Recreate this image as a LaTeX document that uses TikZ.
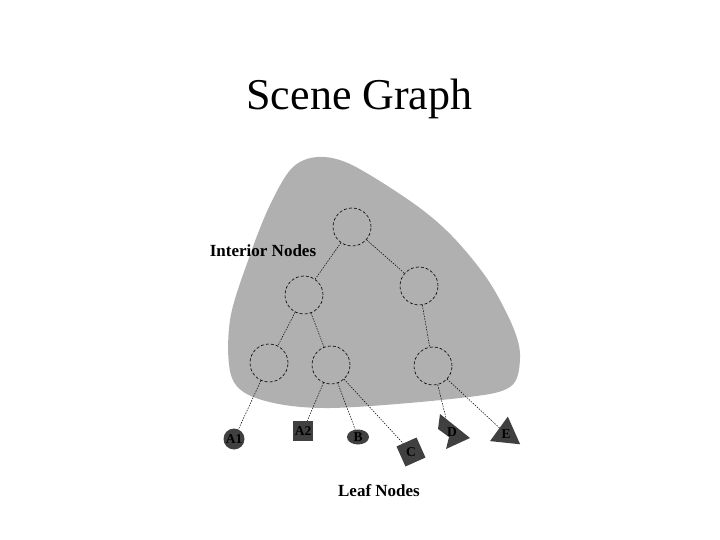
\documentclass[tikz,border=0pt]{standalone}
\usepackage{fontspec}
\setmainfont{Liberation Serif}
\usetikzlibrary{shapes.geometric}
\definecolor{blobgray}{RGB}{176,176,176}
\definecolor{leafgray}{RGB}{64,64,64}
\tikzset{
  inode/.style={draw, circle, dash pattern=on 3pt off 2pt, line width=0.6pt, minimum size=38pt, inner sep=0pt},
  link/.style={draw, dash pattern=on 1.5pt off 1.2pt, line width=0.5pt},
  leaf/.style={fill=leafgray, inner sep=0pt, font=\fontsize{13.5}{14}\selectfont\bfseries},
  tcap/.style={font=\fontsize{17}{20}\selectfont\bfseries, anchor=base}
}
\begin{document}
\begin{tikzpicture}[x=1pt, y=-1pt]
\useasboundingbox (0,0) rectangle (720,540);
\fill[blobgray] plot[smooth cycle, tension=0.55] coordinates {(318,157) (292,168) (270,205) (250,255) (230,320) (232,378) (262,400) (330,408) (460,398) (510,387) (520,358) (513,327) (488,280) (452,236) (413,203) (352,165)};
\node[font=\fontsize{44}{48}\selectfont, anchor=base] (title) at (359.5,110) {Scene Graph};
\node[tcap] (inner) at (263,256) {Interior Nodes};
\node[tcap] (leaves) at (379,496) {Leaf Nodes};
% interior nodes
\node[inode] (t) at (352,227) {};
\node[inode] (tl) at (304,295) {};
\node[inode] (tr) at (419,286) {};
\node[inode] (tll) at (269,363) {};
\node[inode] (tlr) at (331,365) {};
\node[inode] (trr) at (433,366) {};
% leaf nodes
\node[leaf, circle, minimum size=21pt] (A1) at (234,439) {A1};
\node[leaf, minimum size=20pt] (A2) at (303,431) {A2};
\node[leaf, ellipse, minimum width=22pt, minimum height=15pt] (B) at (358,437) {B};
\node[leaf, regular polygon, regular polygon sides=4, minimum size=31pt, shape border rotate=24] (C) at (411,452) {C};
\fill[leafgray] (440,414) -- (470,438) -- (446,449) -- (449,437) -- (438,429) -- cycle;
\coordinate (Dtop) at (446,418);
\node[leaf, fill=none] (D) at (452,432) {D};
\node[leaf, regular polygon, regular polygon sides=3, minimum size=35pt, shape border rotate=-6] (E) at (506,434) {E};
\draw[link] (t) -- (tl) (t) -- (tr) (tl) -- (tll) (tl) -- (tlr) (tr) -- (trr);
\draw[link] (tll) -- (A1) (tlr) -- (A2) (tlr) -- (B) (tlr) -- (C) (trr) -- (Dtop) (trr) -- (E);
\end{tikzpicture}
\end{document}
